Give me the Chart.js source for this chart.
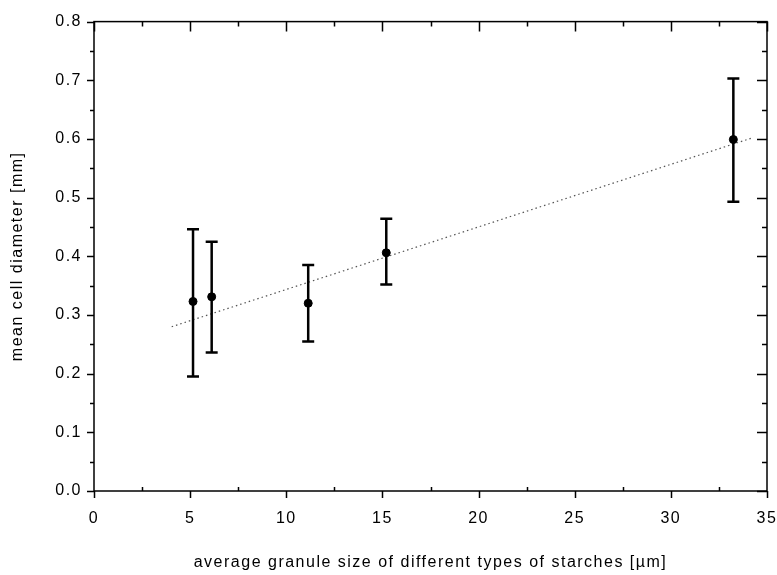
<!DOCTYPE html>
<html>
<head>
<meta charset="utf-8">
<script src="https://cdn.jsdelivr.net/npm/chart.js@4.4.1/dist/chart.umd.min.js"></script>
<style>
  html, body { margin: 0; padding: 0; background: #fff; }
  #wrap { width: 777px; height: 575px; }
</style>
</head>
<body>
<div id="wrap"><canvas id="granuleChart" width="777" height="575"></canvas></div>
<script>
// granule size (x) and mean cell diameter with error bar ends (y)
const granuleSize = [5.15, 6.12, 11.14, 15.2, 33.25];
const cellDiameter = [0.323, 0.331, 0.320, 0.406, 0.599];
const errHigh = [0.446, 0.425, 0.385, 0.464, 0.703];
const errLow = [0.195, 0.236, 0.255, 0.352, 0.493];

// dotted linear fit, read at both ends
const fitX = [4.04, 34.25];
const fitY = [0.280, 0.602];

const xTicks = [0, 5, 10, 15, 20, 25, 30, 35];
const yTicks = [0.0, 0.1, 0.2, 0.3, 0.4, 0.5, 0.6, 0.7, 0.8];

const labelFont = { family: "'Liberation Sans', Arial, sans-serif", size: 16 };

/**
 * The scanned figure uses wide lettering, so add some spacing to all text.
 * */
const wideText = {
  id: 'wideText',
  beforeDraw(chart) {
    chart.ctx.letterSpacing = '1.5px';
  }
};

/**
 * Draws the error bars with caps for the measured points.
 * */
const errorBars = {
  id: 'errorBars',
  afterDatasetsDraw(chart) {
    const ctx = chart.ctx;
    const xs = chart.scales.x, ys = chart.scales.y;
    ctx.save();
    ctx.strokeStyle = '#000';
    ctx.lineWidth = 2.5;
    granuleSize.forEach((gx, i) => {
      const px = xs.getPixelForValue(gx);
      const top = ys.getPixelForValue(errHigh[i]);
      const bot = ys.getPixelForValue(errLow[i]);
      ctx.beginPath();
      ctx.moveTo(px, top); ctx.lineTo(px, bot);
      ctx.moveTo(px - 6, top); ctx.lineTo(px + 6, top);
      ctx.moveTo(px - 6, bot); ctx.lineTo(px + 6, bot);
      ctx.stroke();
    });
    ctx.restore();
  }
};

/**
 * Draws the box frame and the major / minor ticks on all four sides.
 * */
const frameTicks = {
  id: 'frameTicks',
  afterDraw(chart) {
    const ctx = chart.ctx;
    const a = chart.chartArea;
    const xs = chart.scales.x, ys = chart.scales.y;
    ctx.save();
    ctx.strokeStyle = '#000';
    ctx.lineWidth = 1.5;
    ctx.strokeRect(a.left, a.top, a.right - a.left, a.bottom - a.top);
    ctx.beginPath();
    // x ticks: bottom outward, top inward
    for (let v = 0; v <= 35; v += 2.5) {
      const major = v % 5 === 0;
      const px = Math.round(xs.getPixelForValue(v)) + 0.5;
      ctx.moveTo(px, a.bottom); ctx.lineTo(px, a.bottom + (major ? 7 : -4));
      ctx.moveTo(px, a.top); ctx.lineTo(px, a.top + (major ? 10 : 5));
    }
    // y ticks: left outward, right inward
    for (let k = 0; k <= 16; k++) {
      const major = k % 2 === 0;
      const py = Math.round(ys.getPixelForValue(k * 0.05)) + 0.5;
      ctx.moveTo(a.left, py); ctx.lineTo(a.left - (major ? 7 : 4), py);
      ctx.moveTo(a.right, py); ctx.lineTo(a.right - (major ? 10 : 5), py);
    }
    ctx.stroke();
    ctx.restore();
  }
};

new Chart(document.getElementById('granuleChart'), {
  type: 'scatter',
  data: {
    datasets: [
      {
        label: 'mean',
        data: granuleSize.map((x, i) => ({ x: x, y: cellDiameter[i] })),
        backgroundColor: '#000',
        borderColor: '#000',
        pointRadius: 4,
        order: 1
      },
      {
        label: 'fit',
        type: 'line',
        data: fitX.map((x, i) => ({ x: x, y: fitY[i] })),
        borderColor: '#555',
        borderWidth: 1.2,
        borderDash: [1.5, 3],
        pointRadius: 0,
        fill: false,
        order: 2
      }
    ]
  },
  options: {
    responsive: false,
    animation: false,
    layout: { padding: { top: 20, right: 10, left: 0, bottom: 0 } },
    plugins: {
      legend: { display: false },
      tooltip: { enabled: false }
    },
    scales: {
      x: {
        type: 'linear',
        min: 0,
        max: 35,
        afterBuildTicks: (s) => { s.ticks = xTicks.map(v => ({ value: v })); },
        afterFit: (s) => { s.height = 84; s.paddingLeft = 0; s.paddingRight = 0; },
        grid: { display: false, drawTicks: false },
        border: { display: false },
        ticks: { color: '#000', font: labelFont, padding: 18, maxRotation: 0 },
        title: {
          display: true,
          text: 'average granule size of different types of starches [µm]',
          color: '#000',
          font: labelFont,
          padding: { top: 18, bottom: 3 }
        }
      },
      y: {
        type: 'linear',
        min: 0,
        max: 0.8,
        afterBuildTicks: (s) => { s.ticks = yTicks.map(v => ({ value: v })); },
        afterFit: (s) => { s.width = 94; },
        grid: { display: false, drawTicks: false },
        border: { display: false },
        ticks: { color: '#000', font: labelFont, padding: 12, callback: (v) => v.toFixed(1) },
        title: {
          display: true,
          text: 'mean cell diameter [mm]',
          color: '#000',
          font: labelFont,
          padding: { top: 8, bottom: 0 }
        }
      }
    }
  },
  plugins: [wideText, errorBars, frameTicks]
});
</script>
</body>
</html>
